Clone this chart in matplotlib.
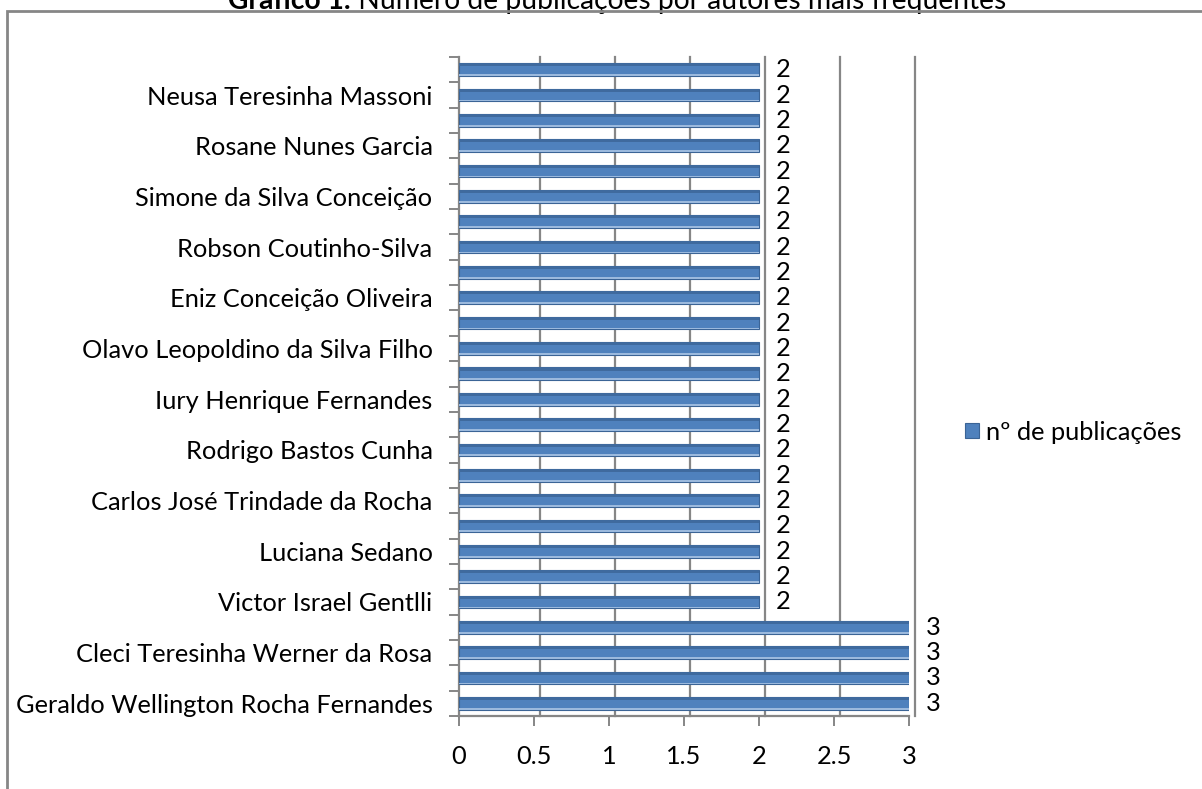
import numpy as np
import matplotlib
matplotlib.use('Agg')
import matplotlib.pyplot as plt
from matplotlib.patches import Rectangle
import matplotlib.transforms as mtransforms

plt.rcParams['font.family'] = ['Lato', 'DejaVu Sans']

# autores de baixo para cima; so um a cada dois nomes aparece no eixo
autores = ['Geraldo Wellington Rocha Fernandes', '',
           'Cleci Teresinha Werner da Rosa', '',
           'Victor Israel Gentlli', '',
           'Luciana Sedano', '',
           'Carlos José Trindade da Rocha', '',
           'Rodrigo Bastos Cunha', '',
           'Iury Henrique Fernandes', '',
           'Olavo Leopoldino da Silva Filho', '',
           'Eniz Conceição Oliveira', '',
           'Robson Coutinho-Silva', '',
           'Simone da Silva Conceição', '',
           'Rosane Nunes Garcia', '',
           'Neusa Teresinha Massoni', '']
publicacoes = [3, 3, 3, 3] + [2] * 22
xticks = [0, 0.5, 1, 1.5, 2, 2.5, 3]
xticklabels = ['0', '0.5', '1', '1.5', '2', '2.5', '3']

W, H = 1202, 789
fs = 18.3
fig = plt.figure(figsize=(W / 100, H / 100), dpi=100)
ax = fig.add_axes([459 / W, 73 / H, 450 / W, 659 / H])

grey = '#868686'
azul = '#4F81BD'
y = np.arange(len(autores))

# gridlines of the back wall, shifted a little to the right
desloc = mtransforms.ScaledTranslation(6 / 100, 0, fig.dpi_scale_trans)
for xt in xticks[1:]:
    gl = ax.axvline(xt, color=grey, lw=1.6, zorder=0, clip_on=False)
    gl.set_transform(ax.get_xaxis_transform() + desloc)

bars = ax.barh(y, publicacoes, height=0.5, color=azul, edgecolor='#3B6496',
               linewidth=0.8, zorder=3)
# darker top band and lighter bottom for a bit of depth
ax.barh(y + 0.19, publicacoes, height=0.12, color='#3F6A9E', lw=0, zorder=4)
ax.barh(y - 0.215, publicacoes, height=0.07, color='#9BB9DD', lw=0, zorder=4)

ax.bar_label(bars, labels=[str(v) for v in publicacoes], padding=12,
             fontsize=fs, color='black')

ax.set_xlim(0, 3)
ax.set_ylim(-0.5, len(autores) - 0.5)
ax.set_xticks(xticks)
ax.set_xticklabels(xticklabels, fontsize=fs)
ax.set_yticks(y)
ax.set_yticklabels(autores, fontsize=fs)
ax.set_yticks(np.arange(-0.5, len(autores), 1), minor=True)
ax.tick_params(axis='y', which='major', length=0, pad=19)
ax.tick_params(axis='y', which='minor', length=7, width=1.4, color=grey)
ax.tick_params(axis='x', length=7, width=1.4, color=grey, pad=14)

for s in ['top', 'right']:
    ax.spines[s].set_visible(False)
for s in ['left', 'bottom']:
    ax.spines[s].set_color(grey)
    ax.spines[s].set_linewidth(1.6)

ax.legend([bars], ['nº de publicações'], loc='center left',
          bbox_to_anchor=(952 / W, 1 - 432 / H), bbox_transform=fig.transFigure,
          frameon=False, fontsize=fs, handlelength=0.55, handleheight=0.55,
          handletextpad=0.3, borderpad=0)

# moldura do grafico
fig.patches.append(Rectangle((7 / W, -0.2), 1.2, 1.2 - 11 / H,
                             transform=fig.transFigure, fill=False,
                             edgecolor=grey, lw=2))

t1 = fig.text(228 / W, 1 - 9 / H, 'Gráfico 1.', fontsize=20.3,
              fontweight='bold', va='baseline', ha='left')
ax.annotate(' Número de publicações por autores mais frequentes',
            xy=(1, 0), xycoords=t1, va='bottom', ha='left', fontsize=20.3,
            annotation_clip=False)

fig.savefig('out.png', dpi=100)
